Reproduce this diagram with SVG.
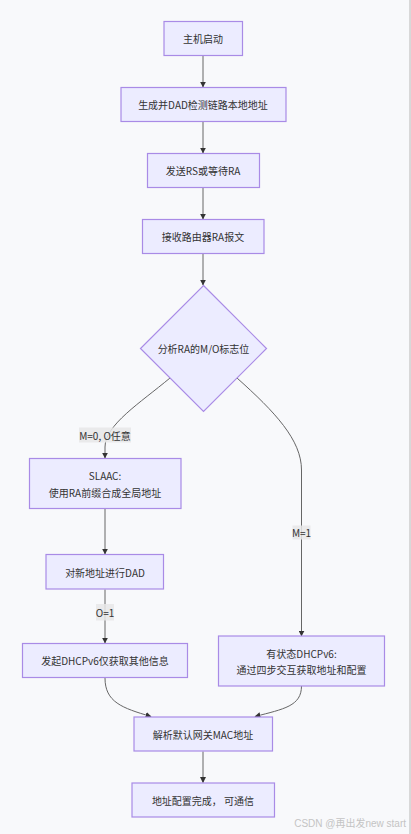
<svg xmlns="http://www.w3.org/2000/svg" width="411" height="834" viewBox="0 0 411 834">
<style>
.node rect,.node polygon{fill:#ECECFF;stroke:#a98be6;stroke-width:1.2}
.node text{font-family:"Noto Sans CJK SC","Liberation Sans",sans-serif;font-size:10px;fill:#333;text-anchor:middle;dominant-baseline:central}
.edge{fill:none;stroke:#666;stroke-width:1}
.lbl rect{fill:#e8e8e8;opacity:0.85}
.lbl text{font-family:"Noto Sans CJK SC","Liberation Sans",sans-serif;font-size:10px;fill:#333;text-anchor:middle;dominant-baseline:central}
</style>
<defs>
<marker id="arr" viewBox="0 0 10 10" refX="9" refY="5" markerWidth="6" markerHeight="6" orient="auto" markerUnits="userSpaceOnUse">
<path d="M0,0 L10,5 L0,10 z" fill="#333"/>
</marker>
</defs>
<rect x="0" y="0" width="411" height="834" fill="#f8f9fb"/>
<rect x="409" y="0" width="2" height="834" fill="#d8d8d8"/>
<g id="connectors">
<path class="edge" d="M203,56 L203,87" marker-end="url(#arr)"/>
<path class="edge" d="M203,122 L203,153" marker-end="url(#arr)"/>
<path class="edge" d="M203,188 L203,219" marker-end="url(#arr)"/>
<path class="edge" d="M203,254 L203,285" marker-end="url(#arr)"/>
<path class="edge" d="M170,378 C140,403 105,425 105,447 L105,458" marker-end="url(#arr)"/>
<path class="edge" d="M237,378 C275,412 301.5,440 301.5,470 L301.5,636" marker-end="url(#arr)"/>
<path class="edge" d="M105,509 L105,554" marker-end="url(#arr)"/>
<path class="edge" d="M105,589.5 L105,643" marker-end="url(#arr)"/>
<path class="edge" d="M105,678 C105,702 122,708 151,716.5" marker-end="url(#arr)"/>
<path class="edge" d="M301.5,686 C301.5,706 284,709 255,716.5" marker-end="url(#arr)"/>
<path class="edge" d="M203,751.5 L203,782.5" marker-end="url(#arr)"/>
<g class="lbl"><rect x="79" y="427.5" width="52" height="15"/><text x="105" y="435">M=0, O任意</text></g>
<g class="lbl"><rect x="292.5" y="525.5" width="18" height="14"/><text x="301.5" y="532.5">M=1</text></g>
<g class="lbl"><rect x="96" y="604" width="18" height="16.5"/><text x="105" y="612.5">O=1</text></g>
</g>
<g id="n1" class="node"><rect x="164" y="21.5" width="78.5" height="34"/><text x="203" y="38.5">主机启动</text></g>
<g id="n2" class="node"><rect x="121" y="87.5" width="165" height="34"/><text x="203" y="104.5">生成并DAD检测链路本地地址</text></g>
<g id="n3" class="node"><rect x="147.5" y="153.5" width="112" height="34"/><text x="203" y="170.5">发送RS或等待RA</text></g>
<g id="n4" class="node"><rect x="142.5" y="219.5" width="121.5" height="34"/><text x="203" y="236.5">接收路由器RA报文</text></g>
<g id="n5" class="node"><polygon points="203.5,285.5 266.5,348.5 203.5,411.5 140.5,348.5"/><text x="203.5" y="348.5">分析RA的M/O标志位</text></g>
<g id="n6" class="node"><rect x="29.5" y="458.5" width="151.5" height="50"/><text x="105" y="475.5">SLAAC:</text><text x="105" y="492">使用RA前缀合成全局地址</text></g>
<g id="n7" class="node"><rect x="46" y="554.5" width="117.5" height="34.5"/><text x="105" y="572">对新地址进行DAD</text></g>
<g id="n8" class="node"><rect x="22.5" y="643.5" width="165" height="34"/><text x="105" y="660.5">发起DHCPv6仅获取其他信息</text></g>
<g id="n9" class="node"><rect x="218.5" y="636" width="166" height="50"/><text x="301.5" y="653.5">有状态DHCPv6:</text><text x="301.5" y="669">通过四步交互获取地址和配置</text></g>
<g id="n10" class="node"><rect x="134" y="717" width="138.5" height="34"/><text x="203" y="734">解析默认网关MAC地址</text></g>
<g id="n11" class="node"><rect x="132" y="783" width="142.5" height="34"/><text x="203" y="800">地址配置完成， 可通信</text></g>
<text x="406" y="823" font-family="Liberation Sans,Noto Sans CJK SC,sans-serif" font-size="10" fill="#c4c4c4" text-anchor="end" dominant-baseline="central">CSDN @再出发new start</text>
</svg>
